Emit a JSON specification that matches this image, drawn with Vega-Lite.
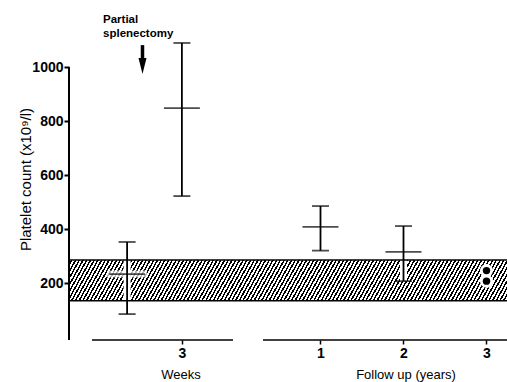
{
"$schema": "https://vega.github.io/schema/vega-lite/v6.json",
"width": 438, "height": 300,
"autosize": {"type": "none"},
"padding": {"left": 69, "top": 40, "right": 0, "bottom": 42},
"background": "white",
"config": {"view": {"stroke": null}, "font": "Liberation Sans"},
"data": {"values": [{}]},
"datasets": {
"bars": [
{"period": "Pre-operative", "pos": -1.33, "mean": 233, "lo": 85, "hi": 352},
{"period": "3 weeks", "pos": -0.67, "mean": 848, "lo": 522, "hi": 1089},
{"period": "1 year", "pos": 1, "mean": 408, "lo": 320, "hi": 485},
{"period": "2 years", "pos": 2, "mean": 315, "lo": 207, "hi": 411}
],
"points": [
{"period": "3 years", "pos": 3, "value": 246},
{"period": "3 years", "pos": 3, "value": 207}
],
"normal": [{"lo": 134, "hi": 285}]
},
"layer": [
{"data": {"name": "normal"},
"mark": {"type": "rect", "strokeWidth": 0, "fill": {"gradient": "linear", "x1": 0, "y1": 0, "x2": 1.06, "y2": 0.0549, "stops": [
{"offset":0,"color":"#fff"},{"offset":0.0044,"color":"#fff"},{"offset":0.0044,"color":"#000"},{"offset":0.008,"color":"#000"},
{"offset":0.008,"color":"#fff"},{"offset":0.0124,"color":"#fff"},{"offset":0.0124,"color":"#000"},{"offset":0.016,"color":"#000"},
{"offset":0.016,"color":"#fff"},{"offset":0.0204,"color":"#fff"},{"offset":0.0204,"color":"#000"},{"offset":0.024,"color":"#000"},
{"offset":0.024,"color":"#fff"},{"offset":0.0284,"color":"#fff"},{"offset":0.0284,"color":"#000"},{"offset":0.032,"color":"#000"},
{"offset":0.032,"color":"#fff"},{"offset":0.0364,"color":"#fff"},{"offset":0.0364,"color":"#000"},{"offset":0.04,"color":"#000"},
{"offset":0.04,"color":"#fff"},{"offset":0.0444,"color":"#fff"},{"offset":0.0444,"color":"#000"},{"offset":0.048,"color":"#000"},
{"offset":0.048,"color":"#fff"},{"offset":0.0524,"color":"#fff"},{"offset":0.0524,"color":"#000"},{"offset":0.056,"color":"#000"},
{"offset":0.056,"color":"#fff"},{"offset":0.0604,"color":"#fff"},{"offset":0.0604,"color":"#000"},{"offset":0.064,"color":"#000"},
{"offset":0.064,"color":"#fff"},{"offset":0.0684,"color":"#fff"},{"offset":0.0684,"color":"#000"},{"offset":0.072,"color":"#000"},
{"offset":0.072,"color":"#fff"},{"offset":0.0764,"color":"#fff"},{"offset":0.0764,"color":"#000"},{"offset":0.08,"color":"#000"},
{"offset":0.08,"color":"#fff"},{"offset":0.0844,"color":"#fff"},{"offset":0.0844,"color":"#000"},{"offset":0.088,"color":"#000"},
{"offset":0.088,"color":"#fff"},{"offset":0.0924,"color":"#fff"},{"offset":0.0924,"color":"#000"},{"offset":0.096,"color":"#000"},
{"offset":0.096,"color":"#fff"},{"offset":0.1004,"color":"#fff"},{"offset":0.1004,"color":"#000"},{"offset":0.104,"color":"#000"},
{"offset":0.104,"color":"#fff"},{"offset":0.1084,"color":"#fff"},{"offset":0.1084,"color":"#000"},{"offset":0.112,"color":"#000"},
{"offset":0.112,"color":"#fff"},{"offset":0.1164,"color":"#fff"},{"offset":0.1164,"color":"#000"},{"offset":0.12,"color":"#000"},
{"offset":0.12,"color":"#fff"},{"offset":0.1244,"color":"#fff"},{"offset":0.1244,"color":"#000"},{"offset":0.128,"color":"#000"},
{"offset":0.128,"color":"#fff"},{"offset":0.1324,"color":"#fff"},{"offset":0.1324,"color":"#000"},{"offset":0.136,"color":"#000"},
{"offset":0.136,"color":"#fff"},{"offset":0.1404,"color":"#fff"},{"offset":0.1404,"color":"#000"},{"offset":0.144,"color":"#000"},
{"offset":0.144,"color":"#fff"},{"offset":0.1484,"color":"#fff"},{"offset":0.1484,"color":"#000"},{"offset":0.152,"color":"#000"},
{"offset":0.152,"color":"#fff"},{"offset":0.1564,"color":"#fff"},{"offset":0.1564,"color":"#000"},{"offset":0.16,"color":"#000"},
{"offset":0.16,"color":"#fff"},{"offset":0.1644,"color":"#fff"},{"offset":0.1644,"color":"#000"},{"offset":0.168,"color":"#000"},
{"offset":0.168,"color":"#fff"},{"offset":0.1724,"color":"#fff"},{"offset":0.1724,"color":"#000"},{"offset":0.176,"color":"#000"},
{"offset":0.176,"color":"#fff"},{"offset":0.1804,"color":"#fff"},{"offset":0.1804,"color":"#000"},{"offset":0.184,"color":"#000"},
{"offset":0.184,"color":"#fff"},{"offset":0.1884,"color":"#fff"},{"offset":0.1884,"color":"#000"},{"offset":0.192,"color":"#000"},
{"offset":0.192,"color":"#fff"},{"offset":0.1964,"color":"#fff"},{"offset":0.1964,"color":"#000"},{"offset":0.2,"color":"#000"},
{"offset":0.2,"color":"#fff"},{"offset":0.2044,"color":"#fff"},{"offset":0.2044,"color":"#000"},{"offset":0.208,"color":"#000"},
{"offset":0.208,"color":"#fff"},{"offset":0.2124,"color":"#fff"},{"offset":0.2124,"color":"#000"},{"offset":0.216,"color":"#000"},
{"offset":0.216,"color":"#fff"},{"offset":0.2204,"color":"#fff"},{"offset":0.2204,"color":"#000"},{"offset":0.224,"color":"#000"},
{"offset":0.224,"color":"#fff"},{"offset":0.2284,"color":"#fff"},{"offset":0.2284,"color":"#000"},{"offset":0.232,"color":"#000"},
{"offset":0.232,"color":"#fff"},{"offset":0.2364,"color":"#fff"},{"offset":0.2364,"color":"#000"},{"offset":0.24,"color":"#000"},
{"offset":0.24,"color":"#fff"},{"offset":0.2444,"color":"#fff"},{"offset":0.2444,"color":"#000"},{"offset":0.248,"color":"#000"},
{"offset":0.248,"color":"#fff"},{"offset":0.2524,"color":"#fff"},{"offset":0.2524,"color":"#000"},{"offset":0.256,"color":"#000"},
{"offset":0.256,"color":"#fff"},{"offset":0.2604,"color":"#fff"},{"offset":0.2604,"color":"#000"},{"offset":0.264,"color":"#000"},
{"offset":0.264,"color":"#fff"},{"offset":0.2684,"color":"#fff"},{"offset":0.2684,"color":"#000"},{"offset":0.272,"color":"#000"},
{"offset":0.272,"color":"#fff"},{"offset":0.2764,"color":"#fff"},{"offset":0.2764,"color":"#000"},{"offset":0.28,"color":"#000"},
{"offset":0.28,"color":"#fff"},{"offset":0.2844,"color":"#fff"},{"offset":0.2844,"color":"#000"},{"offset":0.288,"color":"#000"},
{"offset":0.288,"color":"#fff"},{"offset":0.2924,"color":"#fff"},{"offset":0.2924,"color":"#000"},{"offset":0.296,"color":"#000"},
{"offset":0.296,"color":"#fff"},{"offset":0.3004,"color":"#fff"},{"offset":0.3004,"color":"#000"},{"offset":0.304,"color":"#000"},
{"offset":0.304,"color":"#fff"},{"offset":0.3084,"color":"#fff"},{"offset":0.3084,"color":"#000"},{"offset":0.312,"color":"#000"},
{"offset":0.312,"color":"#fff"},{"offset":0.3164,"color":"#fff"},{"offset":0.3164,"color":"#000"},{"offset":0.32,"color":"#000"},
{"offset":0.32,"color":"#fff"},{"offset":0.3244,"color":"#fff"},{"offset":0.3244,"color":"#000"},{"offset":0.328,"color":"#000"},
{"offset":0.328,"color":"#fff"},{"offset":0.3324,"color":"#fff"},{"offset":0.3324,"color":"#000"},{"offset":0.336,"color":"#000"},
{"offset":0.336,"color":"#fff"},{"offset":0.3404,"color":"#fff"},{"offset":0.3404,"color":"#000"},{"offset":0.344,"color":"#000"},
{"offset":0.344,"color":"#fff"},{"offset":0.3484,"color":"#fff"},{"offset":0.3484,"color":"#000"},{"offset":0.352,"color":"#000"},
{"offset":0.352,"color":"#fff"},{"offset":0.3564,"color":"#fff"},{"offset":0.3564,"color":"#000"},{"offset":0.36,"color":"#000"},
{"offset":0.36,"color":"#fff"},{"offset":0.3644,"color":"#fff"},{"offset":0.3644,"color":"#000"},{"offset":0.368,"color":"#000"},
{"offset":0.368,"color":"#fff"},{"offset":0.3724,"color":"#fff"},{"offset":0.3724,"color":"#000"},{"offset":0.376,"color":"#000"},
{"offset":0.376,"color":"#fff"},{"offset":0.3804,"color":"#fff"},{"offset":0.3804,"color":"#000"},{"offset":0.384,"color":"#000"},
{"offset":0.384,"color":"#fff"},{"offset":0.3884,"color":"#fff"},{"offset":0.3884,"color":"#000"},{"offset":0.392,"color":"#000"},
{"offset":0.392,"color":"#fff"},{"offset":0.3964,"color":"#fff"},{"offset":0.3964,"color":"#000"},{"offset":0.4,"color":"#000"},
{"offset":0.4,"color":"#fff"},{"offset":0.4044,"color":"#fff"},{"offset":0.4044,"color":"#000"},{"offset":0.408,"color":"#000"},
{"offset":0.408,"color":"#fff"},{"offset":0.4124,"color":"#fff"},{"offset":0.4124,"color":"#000"},{"offset":0.416,"color":"#000"},
{"offset":0.416,"color":"#fff"},{"offset":0.4204,"color":"#fff"},{"offset":0.4204,"color":"#000"},{"offset":0.424,"color":"#000"},
{"offset":0.424,"color":"#fff"},{"offset":0.4284,"color":"#fff"},{"offset":0.4284,"color":"#000"},{"offset":0.432,"color":"#000"},
{"offset":0.432,"color":"#fff"},{"offset":0.4364,"color":"#fff"},{"offset":0.4364,"color":"#000"},{"offset":0.44,"color":"#000"},
{"offset":0.44,"color":"#fff"},{"offset":0.4444,"color":"#fff"},{"offset":0.4444,"color":"#000"},{"offset":0.448,"color":"#000"},
{"offset":0.448,"color":"#fff"},{"offset":0.4524,"color":"#fff"},{"offset":0.4524,"color":"#000"},{"offset":0.456,"color":"#000"},
{"offset":0.456,"color":"#fff"},{"offset":0.4604,"color":"#fff"},{"offset":0.4604,"color":"#000"},{"offset":0.464,"color":"#000"},
{"offset":0.464,"color":"#fff"},{"offset":0.4684,"color":"#fff"},{"offset":0.4684,"color":"#000"},{"offset":0.472,"color":"#000"},
{"offset":0.472,"color":"#fff"},{"offset":0.4764,"color":"#fff"},{"offset":0.4764,"color":"#000"},{"offset":0.48,"color":"#000"},
{"offset":0.48,"color":"#fff"},{"offset":0.4844,"color":"#fff"},{"offset":0.4844,"color":"#000"},{"offset":0.488,"color":"#000"},
{"offset":0.488,"color":"#fff"},{"offset":0.4924,"color":"#fff"},{"offset":0.4924,"color":"#000"},{"offset":0.496,"color":"#000"},
{"offset":0.496,"color":"#fff"},{"offset":0.5004,"color":"#fff"},{"offset":0.5004,"color":"#000"},{"offset":0.504,"color":"#000"},
{"offset":0.504,"color":"#fff"},{"offset":0.5084,"color":"#fff"},{"offset":0.5084,"color":"#000"},{"offset":0.512,"color":"#000"},
{"offset":0.512,"color":"#fff"},{"offset":0.5164,"color":"#fff"},{"offset":0.5164,"color":"#000"},{"offset":0.52,"color":"#000"},
{"offset":0.52,"color":"#fff"},{"offset":0.5244,"color":"#fff"},{"offset":0.5244,"color":"#000"},{"offset":0.528,"color":"#000"},
{"offset":0.528,"color":"#fff"},{"offset":0.5324,"color":"#fff"},{"offset":0.5324,"color":"#000"},{"offset":0.536,"color":"#000"},
{"offset":0.536,"color":"#fff"},{"offset":0.5404,"color":"#fff"},{"offset":0.5404,"color":"#000"},{"offset":0.544,"color":"#000"},
{"offset":0.544,"color":"#fff"},{"offset":0.5484,"color":"#fff"},{"offset":0.5484,"color":"#000"},{"offset":0.552,"color":"#000"},
{"offset":0.552,"color":"#fff"},{"offset":0.5564,"color":"#fff"},{"offset":0.5564,"color":"#000"},{"offset":0.56,"color":"#000"},
{"offset":0.56,"color":"#fff"},{"offset":0.5644,"color":"#fff"},{"offset":0.5644,"color":"#000"},{"offset":0.568,"color":"#000"},
{"offset":0.568,"color":"#fff"},{"offset":0.5724,"color":"#fff"},{"offset":0.5724,"color":"#000"},{"offset":0.576,"color":"#000"},
{"offset":0.576,"color":"#fff"},{"offset":0.5804,"color":"#fff"},{"offset":0.5804,"color":"#000"},{"offset":0.584,"color":"#000"},
{"offset":0.584,"color":"#fff"},{"offset":0.5884,"color":"#fff"},{"offset":0.5884,"color":"#000"},{"offset":0.592,"color":"#000"},
{"offset":0.592,"color":"#fff"},{"offset":0.5964,"color":"#fff"},{"offset":0.5964,"color":"#000"},{"offset":0.6,"color":"#000"},
{"offset":0.6,"color":"#fff"},{"offset":0.6044,"color":"#fff"},{"offset":0.6044,"color":"#000"},{"offset":0.608,"color":"#000"},
{"offset":0.608,"color":"#fff"},{"offset":0.6124,"color":"#fff"},{"offset":0.6124,"color":"#000"},{"offset":0.616,"color":"#000"},
{"offset":0.616,"color":"#fff"},{"offset":0.6204,"color":"#fff"},{"offset":0.6204,"color":"#000"},{"offset":0.624,"color":"#000"},
{"offset":0.624,"color":"#fff"},{"offset":0.6284,"color":"#fff"},{"offset":0.6284,"color":"#000"},{"offset":0.632,"color":"#000"},
{"offset":0.632,"color":"#fff"},{"offset":0.6364,"color":"#fff"},{"offset":0.6364,"color":"#000"},{"offset":0.64,"color":"#000"},
{"offset":0.64,"color":"#fff"},{"offset":0.6444,"color":"#fff"},{"offset":0.6444,"color":"#000"},{"offset":0.648,"color":"#000"},
{"offset":0.648,"color":"#fff"},{"offset":0.6524,"color":"#fff"},{"offset":0.6524,"color":"#000"},{"offset":0.656,"color":"#000"},
{"offset":0.656,"color":"#fff"},{"offset":0.6604,"color":"#fff"},{"offset":0.6604,"color":"#000"},{"offset":0.664,"color":"#000"},
{"offset":0.664,"color":"#fff"},{"offset":0.6684,"color":"#fff"},{"offset":0.6684,"color":"#000"},{"offset":0.672,"color":"#000"},
{"offset":0.672,"color":"#fff"},{"offset":0.6764,"color":"#fff"},{"offset":0.6764,"color":"#000"},{"offset":0.68,"color":"#000"},
{"offset":0.68,"color":"#fff"},{"offset":0.6844,"color":"#fff"},{"offset":0.6844,"color":"#000"},{"offset":0.688,"color":"#000"},
{"offset":0.688,"color":"#fff"},{"offset":0.6924,"color":"#fff"},{"offset":0.6924,"color":"#000"},{"offset":0.696,"color":"#000"},
{"offset":0.696,"color":"#fff"},{"offset":0.7004,"color":"#fff"},{"offset":0.7004,"color":"#000"},{"offset":0.704,"color":"#000"},
{"offset":0.704,"color":"#fff"},{"offset":0.7084,"color":"#fff"},{"offset":0.7084,"color":"#000"},{"offset":0.712,"color":"#000"},
{"offset":0.712,"color":"#fff"},{"offset":0.7164,"color":"#fff"},{"offset":0.7164,"color":"#000"},{"offset":0.72,"color":"#000"},
{"offset":0.72,"color":"#fff"},{"offset":0.7244,"color":"#fff"},{"offset":0.7244,"color":"#000"},{"offset":0.728,"color":"#000"},
{"offset":0.728,"color":"#fff"},{"offset":0.7324,"color":"#fff"},{"offset":0.7324,"color":"#000"},{"offset":0.736,"color":"#000"},
{"offset":0.736,"color":"#fff"},{"offset":0.7404,"color":"#fff"},{"offset":0.7404,"color":"#000"},{"offset":0.744,"color":"#000"},
{"offset":0.744,"color":"#fff"},{"offset":0.7484,"color":"#fff"},{"offset":0.7484,"color":"#000"},{"offset":0.752,"color":"#000"},
{"offset":0.752,"color":"#fff"},{"offset":0.7564,"color":"#fff"},{"offset":0.7564,"color":"#000"},{"offset":0.76,"color":"#000"},
{"offset":0.76,"color":"#fff"},{"offset":0.7644,"color":"#fff"},{"offset":0.7644,"color":"#000"},{"offset":0.768,"color":"#000"},
{"offset":0.768,"color":"#fff"},{"offset":0.7724,"color":"#fff"},{"offset":0.7724,"color":"#000"},{"offset":0.776,"color":"#000"},
{"offset":0.776,"color":"#fff"},{"offset":0.7804,"color":"#fff"},{"offset":0.7804,"color":"#000"},{"offset":0.784,"color":"#000"},
{"offset":0.784,"color":"#fff"},{"offset":0.7884,"color":"#fff"},{"offset":0.7884,"color":"#000"},{"offset":0.792,"color":"#000"},
{"offset":0.792,"color":"#fff"},{"offset":0.7964,"color":"#fff"},{"offset":0.7964,"color":"#000"},{"offset":0.8,"color":"#000"},
{"offset":0.8,"color":"#fff"},{"offset":0.8044,"color":"#fff"},{"offset":0.8044,"color":"#000"},{"offset":0.808,"color":"#000"},
{"offset":0.808,"color":"#fff"},{"offset":0.8124,"color":"#fff"},{"offset":0.8124,"color":"#000"},{"offset":0.816,"color":"#000"},
{"offset":0.816,"color":"#fff"},{"offset":0.8204,"color":"#fff"},{"offset":0.8204,"color":"#000"},{"offset":0.824,"color":"#000"},
{"offset":0.824,"color":"#fff"},{"offset":0.8284,"color":"#fff"},{"offset":0.8284,"color":"#000"},{"offset":0.832,"color":"#000"},
{"offset":0.832,"color":"#fff"},{"offset":0.8364,"color":"#fff"},{"offset":0.8364,"color":"#000"},{"offset":0.84,"color":"#000"},
{"offset":0.84,"color":"#fff"},{"offset":0.8444,"color":"#fff"},{"offset":0.8444,"color":"#000"},{"offset":0.848,"color":"#000"},
{"offset":0.848,"color":"#fff"},{"offset":0.8524,"color":"#fff"},{"offset":0.8524,"color":"#000"},{"offset":0.856,"color":"#000"},
{"offset":0.856,"color":"#fff"},{"offset":0.8604,"color":"#fff"},{"offset":0.8604,"color":"#000"},{"offset":0.864,"color":"#000"},
{"offset":0.864,"color":"#fff"},{"offset":0.8684,"color":"#fff"},{"offset":0.8684,"color":"#000"},{"offset":0.872,"color":"#000"},
{"offset":0.872,"color":"#fff"},{"offset":0.8764,"color":"#fff"},{"offset":0.8764,"color":"#000"},{"offset":0.88,"color":"#000"},
{"offset":0.88,"color":"#fff"},{"offset":0.8844,"color":"#fff"},{"offset":0.8844,"color":"#000"},{"offset":0.888,"color":"#000"},
{"offset":0.888,"color":"#fff"},{"offset":0.8924,"color":"#fff"},{"offset":0.8924,"color":"#000"},{"offset":0.896,"color":"#000"},
{"offset":0.896,"color":"#fff"},{"offset":0.9004,"color":"#fff"},{"offset":0.9004,"color":"#000"},{"offset":0.904,"color":"#000"},
{"offset":0.904,"color":"#fff"},{"offset":0.9084,"color":"#fff"},{"offset":0.9084,"color":"#000"},{"offset":0.912,"color":"#000"},
{"offset":0.912,"color":"#fff"},{"offset":0.9164,"color":"#fff"},{"offset":0.9164,"color":"#000"},{"offset":0.92,"color":"#000"},
{"offset":0.92,"color":"#fff"},{"offset":0.9244,"color":"#fff"},{"offset":0.9244,"color":"#000"},{"offset":0.928,"color":"#000"},
{"offset":0.928,"color":"#fff"},{"offset":0.9324,"color":"#fff"},{"offset":0.9324,"color":"#000"},{"offset":0.936,"color":"#000"},
{"offset":0.936,"color":"#fff"},{"offset":0.9404,"color":"#fff"},{"offset":0.9404,"color":"#000"},{"offset":0.944,"color":"#000"},
{"offset":0.944,"color":"#fff"},{"offset":0.9484,"color":"#fff"},{"offset":0.9484,"color":"#000"},{"offset":0.952,"color":"#000"},
{"offset":0.952,"color":"#fff"},{"offset":0.9564,"color":"#fff"},{"offset":0.9564,"color":"#000"},{"offset":0.96,"color":"#000"},
{"offset":0.96,"color":"#fff"},{"offset":0.9644,"color":"#fff"},{"offset":0.9644,"color":"#000"},{"offset":0.968,"color":"#000"},
{"offset":0.968,"color":"#fff"},{"offset":0.9724,"color":"#fff"},{"offset":0.9724,"color":"#000"},{"offset":0.976,"color":"#000"},
{"offset":0.976,"color":"#fff"},{"offset":0.9804,"color":"#fff"},{"offset":0.9804,"color":"#000"},{"offset":0.984,"color":"#000"},
{"offset":0.984,"color":"#fff"},{"offset":0.9884,"color":"#fff"},{"offset":0.9884,"color":"#000"},{"offset":0.992,"color":"#000"},
{"offset":0.992,"color":"#fff"},{"offset":0.9964,"color":"#fff"},{"offset":0.9964,"color":"#000"},{"offset":1,"color":"#000"}
]}},
"encoding": {
"x": {"datum": -2.03, "type": "quantitative", "scale": {"domain": [-2.03, 3.247], "nice": false, "zero": false},
"axis": {"values": [-0.67, 1, 2, 3], "labelExpr": "datum.value < 0 ? '3' : '' + datum.value", "domain": false, "grid": false, "ticks": true, "tickSize": 4, "tickWidth": 1.5, "tickColor": "#000", "labelFont": "Liberation Sans", "labelFontWeight": "bold", "labelFontSize": 14, "labelColor": "#000", "labelPadding": 2, "labelFlush": false, "title": null}},
"x2": {"datum": 3.247},
"y": {"field": "lo", "type": "quantitative", "scale": {"domain": [-11, 1100], "nice": false, "zero": false},
"axis": {"values": [200, 400, 600, 800, 1000], "format": "d", "domain": false, "grid": false, "ticks": true, "tickSize": 5, "tickWidth": 2, "tickColor": "#000", "labelFont": "Liberation Sans", "labelFontWeight": "bold", "labelFontSize": 14, "labelColor": "#000", "labelPadding": 1, "title": "Platelet count (x10⁹/l)", "titleFont": "Liberation Sans", "titleFontWeight": "normal", "titleFontSize": 15, "titleColor": "#000", "titleAngle": -90, "titleX": -44, "titleY": 139, "titleAlign": "center", "titleBaseline": "middle"}},
"y2": {"field": "hi"}
}},
{"data": {"name": "bars"},
"mark": {"type": "rule", "color": "#fff", "strokeWidth": 7},
"encoding": {
"x": {"field": "pos", "type": "quantitative", "scale": {"domain": [-2.03, 3.247], "nice": false, "zero": false}},
"y": {"field": "lo", "type": "quantitative", "scale": {"domain": [-11, 1100], "nice": false, "zero": false}},
"y2": {"field": "hi"}
}},
{"data": {"name": "bars"},
"mark": {"type": "tick", "orient": "horizontal", "color": "#fff", "size": 40, "thickness": 7},
"encoding": {
"x": {"field": "pos", "type": "quantitative", "scale": {"domain": [-2.03, 3.247], "nice": false, "zero": false}},
"y": {"field": "mean", "type": "quantitative", "scale": {"domain": [-11, 1100], "nice": false, "zero": false}}
}},
{"data": {"name": "points"},
"mark": {"type": "point", "filled": true, "color": "#fff", "opacity": 1, "size": 170},
"encoding": {
"x": {"field": "pos", "type": "quantitative", "scale": {"domain": [-2.03, 3.247], "nice": false, "zero": false}},
"y": {"field": "value", "type": "quantitative", "scale": {"domain": [-11, 1100], "nice": false, "zero": false}}
}},
{"data": {"name": "normal"},
"mark": {"type": "rule", "color": "#000", "strokeWidth": 1.5},
"encoding": {
"x": {"datum": -2.03, "type": "quantitative", "scale": {"domain": [-2.03, 3.247], "nice": false, "zero": false}},
"x2": {"datum": 3.247},
"y": {"field": "lo", "type": "quantitative", "scale": {"domain": [-11, 1100], "nice": false, "zero": false}}
}},
{"data": {"name": "normal"},
"mark": {"type": "rule", "color": "#000", "strokeWidth": 1.5},
"encoding": {
"x": {"datum": -2.03, "type": "quantitative", "scale": {"domain": [-2.03, 3.247], "nice": false, "zero": false}},
"x2": {"datum": 3.247},
"y": {"field": "hi", "type": "quantitative", "scale": {"domain": [-11, 1100], "nice": false, "zero": false}}
}},
{"data": {"name": "bars"},
"mark": {"type": "rule", "color": "#000", "strokeWidth": 1.8},
"encoding": {
"x": {"field": "pos", "type": "quantitative", "scale": {"domain": [-2.03, 3.247], "nice": false, "zero": false}},
"y": {"field": "lo", "type": "quantitative", "scale": {"domain": [-11, 1100], "nice": false, "zero": false}},
"y2": {"field": "hi"}
}},
{"data": {"name": "bars"},
"mark": {"type": "tick", "orient": "horizontal", "color": "#000", "size": 17, "thickness": 1.8},
"encoding": {
"x": {"field": "pos", "type": "quantitative", "scale": {"domain": [-2.03, 3.247], "nice": false, "zero": false}},
"y": {"field": "lo", "type": "quantitative", "scale": {"domain": [-11, 1100], "nice": false, "zero": false}}
}},
{"data": {"name": "bars"},
"mark": {"type": "tick", "orient": "horizontal", "color": "#000", "size": 17, "thickness": 1.8},
"encoding": {
"x": {"field": "pos", "type": "quantitative", "scale": {"domain": [-2.03, 3.247], "nice": false, "zero": false}},
"y": {"field": "hi", "type": "quantitative", "scale": {"domain": [-11, 1100], "nice": false, "zero": false}}
}},
{"data": {"name": "bars"},
"mark": {"type": "tick", "orient": "horizontal", "color": "#000", "size": 36, "thickness": 1.8},
"encoding": {
"x": {"field": "pos", "type": "quantitative", "scale": {"domain": [-2.03, 3.247], "nice": false, "zero": false}},
"y": {"field": "mean", "type": "quantitative", "scale": {"domain": [-11, 1100], "nice": false, "zero": false}}
}},
{"data": {"name": "points"},
"mark": {"type": "point", "filled": true, "color": "#000", "opacity": 1, "size": 55},
"encoding": {
"x": {"field": "pos", "type": "quantitative", "scale": {"domain": [-2.03, 3.247], "nice": false, "zero": false}},
"y": {"field": "value", "type": "quantitative", "scale": {"domain": [-11, 1100], "nice": false, "zero": false}}
}},
{"mark": {"type": "rule", "color": "#000", "strokeWidth": 2},
"encoding": {
"x": {"datum": -2.03, "type": "quantitative", "scale": {"domain": [-2.03, 3.247], "nice": false, "zero": false}},
"y": {"datum": -11, "type": "quantitative", "scale": {"domain": [-11, 1100], "nice": false, "zero": false}},
"y2": {"datum": 1000}
}},
{"mark": {"type": "rule", "color": "#000", "strokeWidth": 1.5},
"encoding": {
"x": {"datum": -1.753, "type": "quantitative", "scale": {"domain": [-2.03, 3.247], "nice": false, "zero": false}},
"x2": {"datum": -0.054},
"y": {"datum": -11, "type": "quantitative", "scale": {"domain": [-11, 1100], "nice": false, "zero": false}}
}},
{"mark": {"type": "rule", "color": "#000", "strokeWidth": 1.5},
"encoding": {
"x": {"datum": 0.307, "type": "quantitative", "scale": {"domain": [-2.03, 3.247], "nice": false, "zero": false}},
"x2": {"datum": 3.247},
"y": {"datum": -11, "type": "quantitative", "scale": {"domain": [-11, 1100], "nice": false, "zero": false}}
}},
{"mark": {"type": "rule", "color": "#000", "strokeWidth": 3.5},
"encoding": {
"x": {"datum": -1.1446, "type": "quantitative", "scale": {"domain": [-2.03, 3.247], "nice": false, "zero": false}},
"y": {"datum": 1081, "type": "quantitative", "scale": {"domain": [-11, 1100], "nice": false, "zero": false}},
"y2": {"datum": 1028}
}},
{"mark": {"type": "point", "shape": "M -0.5 -1 L 0.5 -1 L 0 1 Z", "filled": true, "color": "#000", "opacity": 1, "size": 256},
"encoding": {
"x": {"datum": -1.1446, "type": "quantitative", "scale": {"domain": [-2.03, 3.247], "nice": false, "zero": false}},
"y": {"datum": 1004, "type": "quantitative", "scale": {"domain": [-11, 1100], "nice": false, "zero": false}}
}},
{"mark": {"type": "text", "text": "Partial\nsplenectomy", "lineBreak": "\n", "lineHeight": 14, "align": "left", "baseline": "alphabetic", "font": "Liberation Sans", "fontSize": 11.5, "fontWeight": "bold", "color": "#000"},
"encoding": {
"x": {"datum": -1.62, "type": "quantitative", "scale": {"domain": [-2.03, 3.247], "nice": false, "zero": false}},
"y": {"datum": 1163, "type": "quantitative", "scale": {"domain": [-11, 1100], "nice": false, "zero": false}}
}},
{"mark": {"type": "text", "text": "Weeks", "align": "center", "baseline": "alphabetic", "font": "Liberation Sans", "fontSize": 13, "color": "#000"},
"encoding": {
"x": {"datum": -0.68, "type": "quantitative", "scale": {"domain": [-2.03, 3.247], "nice": false, "zero": false}},
"y": {"datum": -155, "type": "quantitative", "scale": {"domain": [-11, 1100], "nice": false, "zero": false}}
}},
{"mark": {"type": "text", "text": "Follow up (years)", "align": "center", "baseline": "alphabetic", "font": "Liberation Sans", "fontSize": 13, "color": "#000"},
"encoding": {
"x": {"datum": 2.03, "type": "quantitative", "scale": {"domain": [-2.03, 3.247], "nice": false, "zero": false}},
"y": {"datum": -155, "type": "quantitative", "scale": {"domain": [-11, 1100], "nice": false, "zero": false}}
}}
]
}
